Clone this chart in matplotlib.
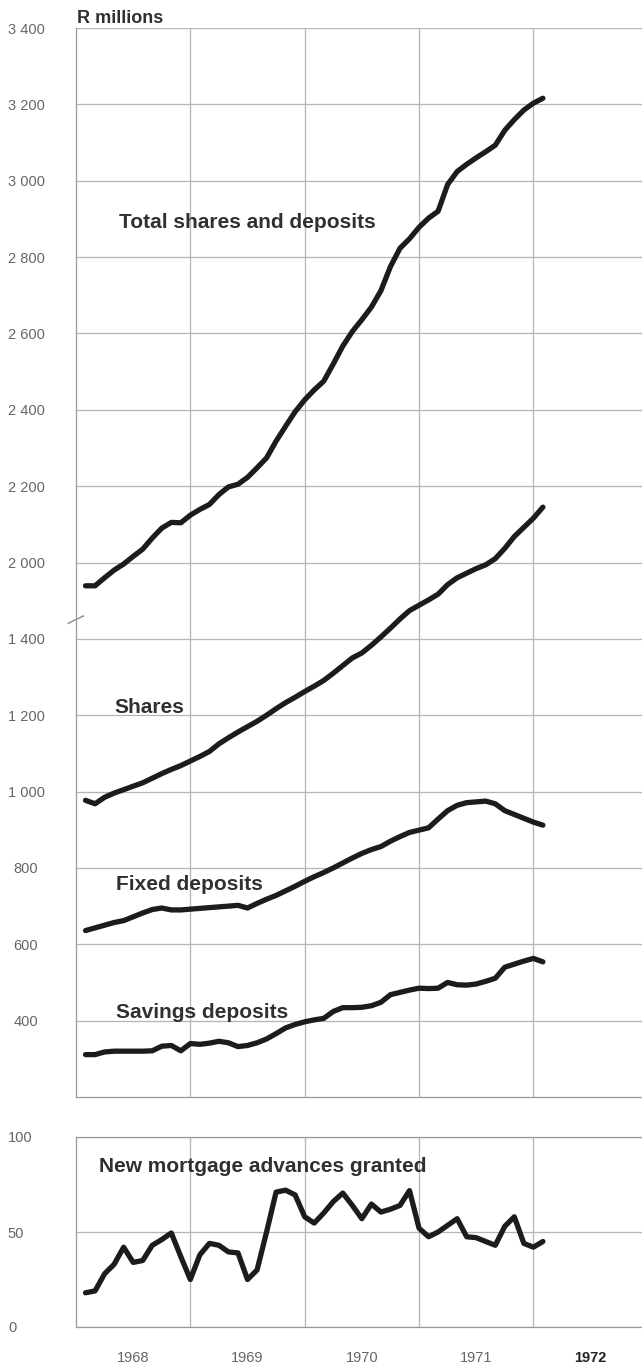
import numpy as np
import matplotlib
matplotlib.use("Agg")
import matplotlib.pyplot as plt

# monthly observations, Jan 1968 .. Jan 1972 (end of month)
months = 1968 + np.arange(1, 50) / 12.0

total = [1939, 1939, 1960, 1980, 1996, 2016, 2035, 2064, 2090, 2105, 2104, 2124,
         2139, 2152, 2178, 2198, 2205, 2223, 2248, 2274, 2318, 2357, 2395, 2426,
         2452, 2475, 2520, 2567, 2605, 2636, 2669, 2712, 2775, 2823, 2848, 2878,
         2902, 2920, 2990, 3024, 3043, 3060, 3076, 3093, 3132, 3160, 3185, 3203,
         3216]
shares = [977, 968, 985, 996, 1005, 1014, 1023, 1035, 1047, 1058, 1068, 1080,
          1092, 1105, 1125, 1141, 1156, 1170, 1184, 1200, 1217, 1233, 1247, 1262,
          1276, 1291, 1310, 1330, 1350, 1363, 1383, 1405, 1428, 1452, 1474, 1488,
          1502, 1517, 1542, 1560, 1572, 1584, 1594, 1610, 1637, 1668, 1692, 1716,
          1745]
fixed = [636, 643, 650, 657, 662, 672, 682, 691, 695, 690, 690, 692,
         694, 696, 698, 700, 702, 695, 707, 718, 728, 740, 752, 765,
         777, 788, 800, 813, 826, 838, 848, 856, 870, 882, 893, 899,
         905, 928, 950, 964, 971, 973, 975, 968, 950, 940, 930, 920,
         912]
savings = [311, 311, 318, 320, 320, 320, 320, 321, 333, 335, 321, 340,
           338, 341, 346, 342, 332, 335, 342, 352, 366, 381, 390, 397,
           402, 406, 424, 434, 434, 435, 439, 448, 468, 474, 480, 485,
           484, 485, 500, 494, 493, 496, 503, 511, 540, 548, 556, 563,
           554]
mortgage = [18, 19, 28, 33, 42, 34, 35, 43, 46, 49.5, 37, 25,
            38, 44, 43, 39.5, 39, 25, 30, 50, 71, 72, 69.5, 58,
            54.7, 60, 66, 70.5, 64, 57, 64.7, 60.5, 62, 64, 71.8, 52,
            47.5, 50, 53.5, 57, 47.5, 47, 45, 43, 53, 58, 44, 42,
            45]

# axis break: values above the break are shifted down by this much
break_shift = 400
tick_pos = [400, 600, 800, 1000, 1200, 1400, 1600, 1800, 2000, 2200, 2400, 2600, 2800, 3000]
tick_lab = ["400", "600", "800", "1 000", "1 200", "1 400", "2 000", "2 200", "2 400",
            "2 600", "2 800", "3 000", "3 200", "3 400"]
year_ticks = [1968.5, 1969.5, 1970.5, 1971.5, 1972.5]
year_labels = ["1968", "1969", "1970", "1971", "1972"]

W, H = 642, 1368
fig = plt.figure(figsize=(W / 100, H / 100), dpi=100)

line_col = '#1c1c1c'
text_col = '#303030'
grid_col = '#b4b4b4'
tick_col = '#666666'
narrow = ['Liberation Sans Narrow', 'Liberation Sans', 'DejaVu Sans']
label_font = dict(family=['Liberation Sans', 'DejaVu Sans'], fontweight='bold',
                  fontsize=15, color=text_col)
line_kw = dict(color=line_col, lw=3.8, solid_capstyle='round', solid_joinstyle='round')

x0, x1 = 1968.0, 1972.95
left = 76 / W

# --- main panel
ax = fig.add_axes([left, 1 - 1097 / H, 1 - left, (1097 - 28) / H])
ax.plot(months, np.array(total) - break_shift, **line_kw)
ax.plot(months, shares, **line_kw)
ax.plot(months, fixed, **line_kw)
ax.plot(months, savings, **line_kw)
ax.set_xlim(x0, x1)
ax.set_ylim(200, 3000)
ax.set_yticks(tick_pos, tick_lab)
ax.set_xticks([1969, 1970, 1971, 1972], [])
ax.grid(True, color=grid_col, lw=0.9)
ax.tick_params(axis='y', length=0, pad=36, labelsize=10.5, labelcolor=tick_col)
ax.tick_params(axis='x', length=0)
for t in ax.get_yticklabels():
    t.set_ha('center')
    t.set_family(narrow)
for s in ['top', 'right']:
    ax.spines[s].set_visible(False)
for s in ['left', 'bottom']:
    ax.spines[s].set_color('#999999')
    ax.spines[s].set_linewidth(0.9)

# break mark on the left spine
ax.plot([-0.014, 0.013], [0.443, 0.450], transform=ax.transAxes, color='#888888',
        lw=1.0, clip_on=False)

ax.text(0.076, 0.813, "Total shares and deposits", transform=ax.transAxes, **label_font)
ax.text(0.067, 0.3595, "Shares", transform=ax.transAxes, **label_font)
ax.text(0.0707, 0.1936, "Fixed deposits", transform=ax.transAxes, **label_font)
ax.text(0.0707, 0.0739, "Savings deposits", transform=ax.transAxes, **label_font)

fig.text(77 / W, 1 - 23 / H, "R millions", family=['Liberation Sans', 'DejaVu Sans'],
         fontweight='bold', fontsize=13, color=text_col, va='baseline')

# --- mortgage panel
ax2 = fig.add_axes([left, 1 - 1327 / H, 1 - left, 190 / H])
ax2.plot(months, mortgage, **line_kw)
ax2.set_xlim(x0, x1)
ax2.set_ylim(0, 100)
ax2.set_yticks([0, 50, 100], ["0", "50", "100"])
ax2.set_xticks(year_ticks, year_labels)
ax2.set_xticks([1969, 1970, 1971, 1972], minor=True)
ax2.grid(True, which='minor', axis='x', color=grid_col, lw=0.9)
ax2.grid(True, which='major', axis='y', color=grid_col, lw=0.9)
ax2.tick_params(axis='both', which='both', length=0)
ax2.tick_params(axis='y', pad=49, labelsize=10.5, labelcolor=tick_col)
ax2.tick_params(axis='x', pad=17, labelsize=10.5, labelcolor=tick_col)
for t in ax2.get_yticklabels():
    t.set_ha('left')
    t.set_family(narrow)
for t in ax2.get_xticklabels():
    t.set_family(narrow)
xl = ax2.get_xticklabels()
xl[-1].set_fontweight('bold')
xl[-1].set_color('#222222')
ax2.spines['right'].set_visible(False)
for s in ['left', 'bottom', 'top']:
    ax2.spines[s].set_color('#999999')
    ax2.spines[s].set_linewidth(0.9)

ax2.text(0.040, 0.817, "New mortgage advances granted", transform=ax2.transAxes, **label_font)

fig.savefig("out.png", dpi=100)
